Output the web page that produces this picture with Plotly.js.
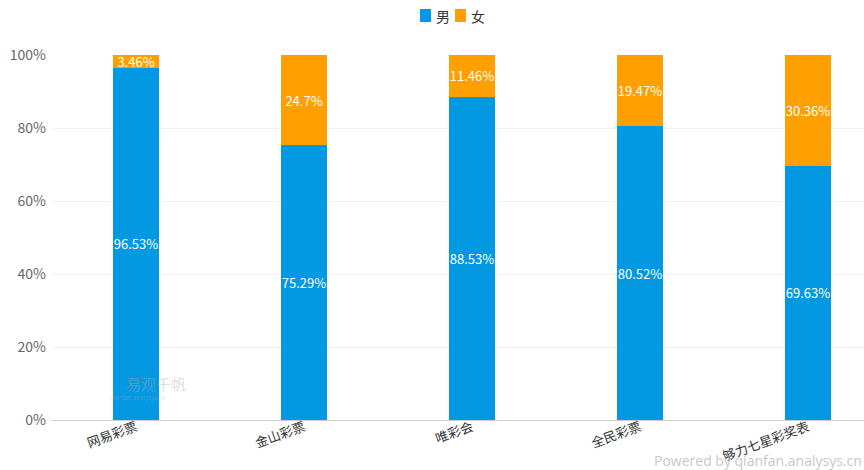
<!DOCTYPE html>
<html><head><meta charset="utf-8">
<script src="https://cdn.plot.ly/plotly-3.0.1.min.js"></script>
<style>html,body{margin:0;padding:0;background:#fff}#c{width:864px;height:470px}</style>
</head><body><div id="c"></div>
<script>
const categories = ['网易彩票','金山彩票','唯彩会','全民彩票','够力七星彩奖表'];
const male = [96.53, 75.29, 88.53, 80.52, 69.63];
const female = [3.46, 24.7, 11.46, 19.47, 30.36];
const seriesNames = ['男','女'];
const colors = ['#0398e2','#ff9f00'];
const font = '"Noto Sans CJK SC", "Microsoft YaHei", sans-serif';

function tr(vals, i){
  return {type:'bar', x:categories, y:vals, name:seriesNames[i],
    marker:{color:colors[i]}, width:0.274,
    text: vals.map(v => v + '%'), texttemplate:'%{text}', textposition:'inside', insidetextanchor:'middle',
    textangle:0, constraintext:'none', textfont:{color:'#fff', size:13, family:font},
    hoverinfo:'none', showlegend:false};
}
// plot area in pixels: x 52..864, y 55..420
const px = x => (x - 52) / 812;
const py = y => (420 - y) / 365;
const legendX = [420, 455];
const shapes = [], annotations = [];
seriesNames.forEach((n, i) => {
  shapes.push({type:'rect', xref:'paper', yref:'paper', xsizemode:'pixel', ysizemode:'pixel',
    xanchor:px(legendX[i]), yanchor:py(22), x0:0, x1:11, y0:0, y1:13,
    fillcolor:colors[i], line:{width:0}});
  annotations.push({text:n, xref:'paper', yref:'paper', x:px(legendX[i] + 14), y:py(16),
    xanchor:'left', yanchor:'middle', showarrow:false, font:{size:14, color:'#333'}});
});
annotations.push(
  {text:'易观千帆', xref:'paper', yref:'paper', x:px(124), y:py(383), xanchor:'left', yanchor:'middle', showarrow:false, font:{size:15, color:'rgba(170,170,170,0.4)'}},
  {text:'qianfan.analysys.cn', xref:'paper', yref:'paper', x:px(108), y:py(397), xanchor:'left', yanchor:'middle', showarrow:false, font:{size:6, color:'rgba(170,170,170,0.4)'}},
  {text:'Powered by qianfan.analysys.cn', xref:'paper', yref:'paper', x:1, y:py(460), xanchor:'right', yanchor:'middle', showarrow:false, font:{size:14, color:'#c8c8c8', family:'"Open Sans", sans-serif'}}
);
const layout = {
  width:864, height:470, barmode:'stack',
  margin:{l:52, r:0, t:55, b:50},
  paper_bgcolor:'#fff', plot_bgcolor:'#fff',
  font:{family:font, color:'#666', size:14},
  showlegend:false,
  xaxis:{range:[-0.5, 4.333], tickangle:-20, tickfont:{size:13, color:'#333'}, ticklabelstandoff:-6,
    showgrid:false, showline:true, linecolor:'#ccc', ticks:'', zeroline:false, fixedrange:true},
  yaxis:{range:[0,100], dtick:20, ticksuffix:'%', showgrid:true, gridcolor:'#f3f3f3', ticklabelstandoff:5,
    zeroline:false, showline:false, tickfont:{size:14, color:'#666'}, ticks:'', fixedrange:true},
  shapes, annotations
};
Plotly.newPlot('c', [tr(male,0), tr(female,1)], layout, {displayModeBar:false, staticPlot:true});
</script></body></html>
